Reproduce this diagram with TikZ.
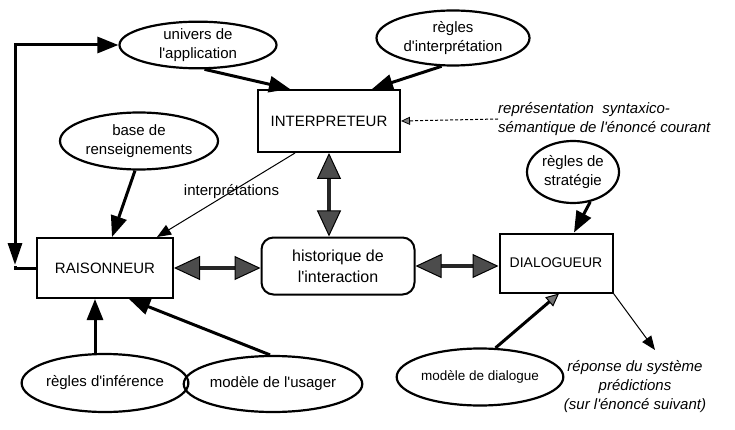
\documentclass[tikz,border=0pt]{standalone}
\usepackage{fontspec}
\setmainfont{Liberation Sans}
\usetikzlibrary{shapes.geometric,% for the ellipses
                arrows.meta}% for the big triangle tips

\newcommand{\ap}{\textquotesingle}% straight apostrophe as in the print

\begin{document}
\begin{tikzpicture}[
  x=1pt, y=-1pt, % one unit is one pixel of the page, y runs down
  font=\fontsize{15}{19}\selectfont,
  module/.style={
    rectangle,
    draw, line width=2pt,
    inner sep=0pt
  },
  knowledge/.style={
    ellipse,
    draw, line width=2.2pt,
    inner sep=0pt,
    align=center
  },
  history/.style={
    rectangle, rounded corners=12pt,
    draw, line width=2pt,
    inner sep=0pt, align=center,
    font=\fontsize{16}{21}\selectfont
  },
  note/.style={inner sep=0pt, font=\fontsize{15}{19}\selectfont\itshape},
  feed/.style={line width=3pt, -{Triangle[length=21pt,width=16pt]}},
  exchange/.style={
    line width=4pt, draw=black!85,
    {Triangle[length=26pt,width=24pt,line width=1pt,color=black,fill=black!70]}-%
    {Triangle[length=26pt,width=24pt,line width=1pt,color=black,fill=black!70]}
  },
  link/.style={line width=1pt, -{Triangle[length=14pt,width=11pt]}}
]
\useasboundingbox (0,0) rectangle (735,430);

% knowledge sources round the modules
\node (univ)   [knowledge, minimum width=157pt, minimum height=46pt] at (198,45)  {univers de\\l\ap application};
\node (irules) [knowledge, minimum width=153pt, minimum height=55pt] at (453,38)  {règles\\d\ap interprétation};
\node (base)   [knowledge, minimum width=158pt, minimum height=57pt] at (139,141) {base de\\renseignements};
\node (strat)  [knowledge, minimum width=92pt,  minimum height=62pt] at (573,172) {règles de\\stratégie};
\node (infer)  [knowledge, minimum width=156pt, minimum height=58pt] at (105,383) {règles d\ap inférence};
\node (usager) [knowledge, minimum width=147pt, minimum height=56pt] at (273,384) {modèle de l\ap usager};
\node (dlg)    [knowledge, minimum width=122pt, minimum height=57pt, font=\fontsize{13.5}{16}\selectfont] at (480,377) {modèle de dialogue};

% the three modules and the history
\node (interp) [module, minimum width=142pt, minimum height=62pt] at (329,121) {INTERPRETEUR};
\node (rais)   [module, minimum width=136pt, minimum height=60pt] at (105,268) {RAISONNEUR};
\node (dial)   [module, minimum width=113pt, minimum height=59pt, font=\fontsize{14}{17}\selectfont] at (556,263) {DIALOGUEUR};
\node (hist)   [history, minimum width=153pt, minimum height=57pt] at (338,266) {historique de\\l\ap interaction};

% input and output texts
\node (repr)  [note, anchor=west, align=left] at (498,119) {représentation\ \ syntaxico-\\sémantique de l\ap énoncé courant};
\node (reply) [note, align=center] at (635,387) {réponse du système\\prédictions\\(sur l\ap énoncé suivant)};
\coordinate (replytip) at (655,350);
\coordinate (loopfoot) at (15,268);

% knowledge fed to the modules
\draw[feed] (univ.-75) -- ([xshift=-39pt]interp.north);
\draw[feed] (irules.-112) -- ([xshift=43pt]interp.north);
\draw[feed] ([xshift=-4pt]base.south) -- ([xshift=7pt]rais.north);
\draw[feed] ([xshift=-10pt]infer.north) -- ([xshift=-10pt]rais.south);
\draw[feed] ([xshift=-3pt]usager.north) -- ([xshift=24pt]rais.south);
\draw[feed] (strat.-60) -- ([xshift=18pt]dial.north);
\draw[line width=3pt, -{Triangle[length=13pt,width=12pt,line width=1pt,fill=black!55]}] (dlg.62) -- ([xshift=3pt]dial.south);

% loop from the reasoner back to the universe
\draw[line width=3pt] (rais.west) -| ([yshift=2pt]loopfoot);
\draw[line width=3pt, {Triangle[length=22pt,width=14pt]}-{Triangle[length=21pt,width=16pt]}]
  ([yshift=3pt]loopfoot) |- (univ.west);

% exchanges with the history
\draw[exchange] (interp.south) -- (interp.south |- hist.north);
\draw[exchange] (rais.east) -- (rais.east -| hist.west);
\draw[exchange] (hist.east) -- (hist.east -| dial.west);

% thin links
\draw[link] ([xshift=-34pt]interp.south) -- node (interplab) [pos=0.46] {interprétations} ([xshift=52pt]rais.north);
\draw[line width=1pt, densely dashed, -{Triangle[length=9pt,width=8pt,line width=0.8pt,fill=black!50]}] (repr.west) -- (interp.east);
\draw[link] (dial.south east) -- (replytip);
\end{tikzpicture}
\end{document}
